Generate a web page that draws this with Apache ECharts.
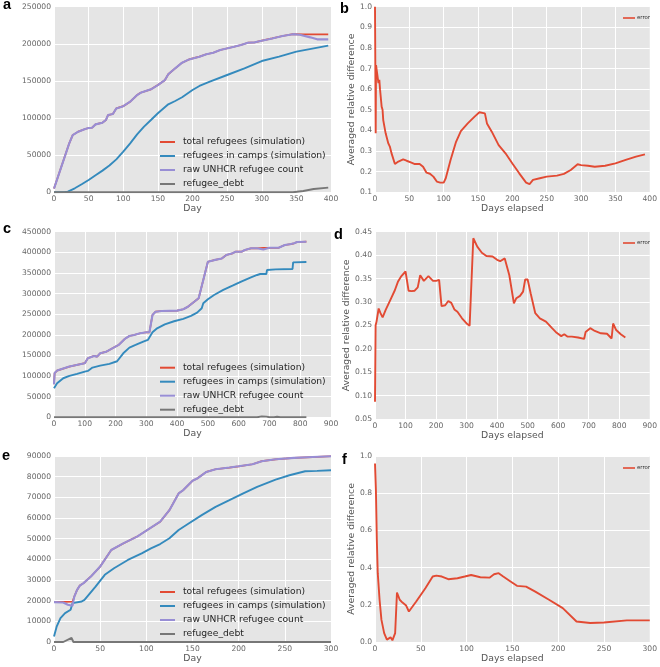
<!DOCTYPE html>
<html>
<head>
<meta charset="utf-8">
<script src="https://cdn.jsdelivr.net/npm/echarts@6/dist/echarts.min.js"></script>
<style>
html,body{margin:0;padding:0;background:#fff;}
#chart{width:660px;height:667px;}
</style>
</head>
<body>
<div id="chart"></div>
<script>
// ---------- DATA ----------
const seriesNames = ['total refugees (simulation)', 'refugees in camps (simulation)', 'raw UNHCR refugee count', 'refugee_debt'];
const errorName = 'error';
const panelLetters = ['a', 'b', 'c', 'd', 'e', 'f'];

// Panel a
const aTotalSim = [[0,5000],[22,66000],[27,77000],[35,81700],[45,85300],[50,86600],[55,87000],[60,91500],[70,93800],[75,97400],[78,104000],[85,105500],[90,113000],[100,116000],[110,122000],[120,131000],[125,134000],[140,138700],[150,144500],[160,151000],[165,159000],[175,167000],[185,174600],[195,179000],[210,182700],[220,186000],[230,188000],[240,191700],[260,196000],[270,198400],[280,201500],[290,202000],[300,204200],[315,207300],[330,210500],[345,213000],[360,212800],[396,212800]];
const aCamps = [[0,0],[15,300],[20,900],[30,5400],[40,10800],[50,16600],[60,23000],[70,29200],[80,36000],[90,44400],[100,54800],[110,66000],[120,78000],[130,88400],[140,97400],[150,106400],[160,114500],[165,118500],[175,123000],[185,128000],[200,137800],[210,143200],[225,149000],[250,158000],[275,167000],[300,176800],[325,182700],[350,189400],[375,193900],[396,197500]];
const aRawUNHCR = [[0,5000],[22,66000],[27,77000],[35,81700],[45,85300],[50,86600],[55,87000],[60,91500],[70,93800],[75,97400],[78,104000],[85,105500],[90,113000],[100,116000],[110,122000],[120,131000],[125,134000],[140,138700],[150,144500],[160,151000],[165,159000],[175,167000],[185,174600],[195,179000],[210,182700],[220,186000],[230,188000],[240,191700],[260,196000],[270,198400],[280,201500],[290,202000],[300,204200],[315,207300],[330,210500],[345,213000],[355,212300],[370,208700],[380,206000],[396,206000]];
const aDebt = [[0,0],[345,0],[360,1800],[375,4500],[396,6300]];

// Panel b
const bError = [[0,1.0],[1,0.386],[1.5,0.717],[3.4,0.717],[5,0.63],[6.3,0.645],[7.3,0.60],[9.7,0.515],[11,0.50],[12,0.45],[13.6,0.458],[15.5,0.386],[19.4,0.337],[21.8,0.32],[24,0.29],[29,0.237],[34,0.249],[41,0.26],[46,0.253],[53,0.244],[58,0.237],[65,0.237],[70,0.224],[75,0.195],[80,0.190],[85,0.176],[90,0.152],[95,0.147],[100,0.147],[103,0.168],[110,0.257],[118,0.345],[125,0.397],[135,0.434],[145,0.467],[152,0.488],[160,0.483],[163,0.434],[170,0.394],[180,0.329],[190,0.289],[200,0.24],[210,0.192],[220,0.147],[225,0.14],[230,0.16],[240,0.168],[250,0.176],[265,0.181],[275,0.189],[285,0.208],[295,0.236],[300,0.232],[310,0.229],[320,0.224],[335,0.229],[350,0.24],[365,0.257],[380,0.273],[393,0.284]];

// Panel c
const cTotalSim = [[0,80000],[2,107000],[10,113000],[50,122800],[100,131000],[105,132500],[110,143000],[130,148700],[140,147000],[150,155000],[170,159000],[200,171300],[210,175300],[230,190000],[245,197000],[260,199500],[280,203600],[300,206000],[310,206000],[320,248000],[330,256000],[350,257700],[400,258500],[420,261800],[435,268000],[470,288500],[500,377000],[520,381000],[545,385000],[560,393500],[580,397500],[590,401500],[610,401500],[620,405600],[640,409700],[660,409700],[680,411000],[700,411000],[730,411000],[750,417700],[770,420000],[780,421800],[790,425000],[820,425800]];
const cCamps = [[0,70300],[10,82400],[30,94500],[50,100200],[75,105000],[100,110700],[110,112300],[125,120400],[150,125200],[180,129300],[205,135700],[210,139000],[225,155000],[245,168900],[265,175300],[290,183400],[305,187500],[320,206000],[335,215700],[360,225400],[390,232700],[420,238400],[445,245600],[465,253700],[480,264200],[485,276300],[500,286000],[520,296500],[550,308700],[580,319000],[610,329700],[640,339400],[660,345000],[670,347400],[690,347400],[692,357000],[720,358700],[775,359600],[777,375700],[820,376500]];
const cRawUNHCR = [[0,80000],[2,107000],[10,113000],[50,122800],[100,131000],[105,132500],[110,143000],[130,148700],[140,147000],[150,155000],[170,159000],[200,171300],[210,175300],[230,190000],[245,197000],[260,199500],[280,203600],[300,206000],[310,206000],[320,248000],[330,256000],[350,257700],[400,258500],[420,261800],[435,268000],[470,288500],[500,377000],[520,381000],[545,385000],[560,393500],[580,397500],[590,401500],[610,401500],[620,405600],[640,409700],[660,409700],[680,407000],[700,411000],[730,411000],[750,417700],[770,420000],[780,421800],[790,425000],[820,425800]];
const cDebt = [[0,0],[660,0],[675,2000],[690,1500],[700,0],[715,0],[725,1200],[735,0],[820,0]];

// Panel d
const dError = [[0,0.087],[2,0.25],[5,0.258],[12,0.286],[18,0.276],[25,0.267],[35,0.283],[50,0.304],[65,0.325],[75,0.343],[85,0.354],[100,0.365],[105,0.368],[110,0.324],[120,0.323],[130,0.324],[135,0.327],[140,0.331],[148,0.357],[160,0.345],[175,0.355],[190,0.345],[200,0.345],[210,0.347],[218,0.291],[230,0.293],[240,0.302],[250,0.298],[260,0.284],[270,0.279],[285,0.265],[300,0.254],[310,0.249],[322,0.436],[335,0.418],[350,0.405],[365,0.398],[385,0.397],[400,0.39],[410,0.387],[425,0.393],[430,0.393],[440,0.357],[455,0.297],[463,0.308],[475,0.313],[485,0.322],[492,0.348],[500,0.348],[510,0.318],[525,0.276],[540,0.265],[560,0.258],[580,0.244],[585,0.246],[595,0.234],[610,0.227],[620,0.231],[630,0.226],[645,0.226],[650,0.229],[665,0.224],[685,0.221],[690,0.236],[705,0.244],[720,0.238],[740,0.233],[760,0.232],[775,0.222],[780,0.254],[790,0.24],[805,0.231],[820,0.224]];

// Panel e
const eTotalSim = [[0,19300],[10,19400],[20,19500],[22,22000],[25,25200],[28,27300],[32,28500],[40,31700],[50,36500],[62,44500],[75,47700],[90,51000],[100,53900],[115,58200],[125,63800],[135,71900],[140,73500],[150,78000],[155,79100],[165,82300],[175,83600],[190,84400],[200,85000],[215,86000],[225,87500],[240,88400],[260,89100],[280,89500],[300,89900]];
const eCamps = [[0,2700],[3,7600],[7,11600],[12,14000],[18,15600],[20,18800],[21,19100],[30,19600],[33,20400],[45,26800],[55,32500],[65,35700],[80,39700],[95,42900],[105,45300],[115,47400],[125,50200],[135,54200],[145,57100],[160,61400],[175,65400],[190,68600],[205,71900],[220,75100],[240,78600],[255,80700],[272,82600],[285,82800],[300,83100]];
const eRawUNHCR = [[0,19300],[10,19100],[15,18000],[20,17500],[22,22000],[25,25200],[28,27300],[32,28500],[40,31700],[50,36500],[62,44500],[75,47700],[90,51000],[100,53900],[115,58200],[125,63800],[135,71900],[140,73500],[150,78000],[155,79100],[165,82300],[175,83600],[190,84400],[200,85000],[215,86000],[225,87500],[240,88400],[260,89100],[280,89500],[300,89900]];
const eDebt = [[0,0],[10,0],[19,2000],[21,0],[300,0]];

// Panel f
const fError = [[0,0.96],[1,0.816],[2,0.55],[3,0.37],[5,0.227],[7,0.12],[10,0.048],[13,0.0125],[15,0.0125],[17,0.025],[19,0.009],[21,0.016],[22,0.048],[24,0.266],[27,0.227],[30,0.212],[34,0.196],[37,0.164],[45,0.218],[55,0.289],[63,0.352],[67,0.357],[73,0.352],[80,0.3375],[90,0.343],[98,0.352],[105,0.36],[115,0.348],[125,0.346],[130,0.364],[135,0.37],[140,0.352],[148,0.325],[155,0.302],[165,0.298],[175,0.271],[190,0.227],[205,0.182],[220,0.11],[235,0.102],[250,0.105],[275,0.116],[300,0.116]];

// ---------- STYLE / LAYOUT ----------
const C = { red: '#E24A33', blue: '#348ABD', purple: '#988ED5', grey: '#777777' };
const FONT = 'DejaVu Sans';
const grids = [
  { left: 54,  top: 6.7, width: 277, height: 185.6 },
  { left: 375, top: 6.7, width: 277, height: 185.6 },
  { left: 54,  top: 231.7, width: 277, height: 185.5 },
  { left: 375, top: 231.7, width: 277, height: 187.3 },
  { left: 54,  top: 456, width: 277, height: 186 },
  { left: 375, top: 456, width: 277, height: 186 }
].map(g => Object.assign({ show: true, backgroundColor: '#E5E5E5', borderWidth: 0 }, g));

function xAx(i, max, interval, name) {
  return {
    type: 'value', gridIndex: i, min: 0, max: max, interval: interval,
    name: name, nameLocation: 'middle', nameGap: 11,
    nameTextStyle: { fontFamily: FONT, fontSize: 9.3, color: '#555' },
    axisLine: { show: false }, axisTick: { show: false },
    axisLabel: { fontFamily: FONT, fontSize: 7.6, color: '#666', margin: 3 },
    splitLine: { show: true, lineStyle: { color: '#ffffff', width: 1 } }
  };
}
function yAx(i, min, max, interval, fmt, name) {
  return {
    type: 'value', gridIndex: i, min: min, max: max, interval: interval,
    name: name || '', nameLocation: 'middle', nameGap: 19,
    nameTextStyle: { fontFamily: FONT, fontSize: 9.3, color: '#555' },
    axisLine: { show: false }, axisTick: { show: false },
    axisLabel: { fontFamily: FONT, fontSize: 7.6, color: '#666', margin: 3, formatter: fmt },
    splitLine: { show: true, lineStyle: { color: '#ffffff', width: 1 } }
  };
}
const intFmt = v => String(Math.round(v));
const f1 = v => v.toFixed(1);
const f2 = v => v.toFixed(2);

function line(name, data, color, idx, width) {
  return {
    type: 'line', name: name, data: data, xAxisIndex: idx, yAxisIndex: idx,
    showSymbol: false, symbol: 'none', smooth: false, animation: false,
    lineStyle: { color: color, width: width || 1.9 }, itemStyle: { color: color }
  };
}

const series = [
  line(seriesNames[0], aTotalSim, C.red, 0, 1.7),
  line(seriesNames[1], aCamps, C.blue, 0),
  line(seriesNames[2], aRawUNHCR, C.purple, 0, 2.1),
  line(seriesNames[3], aDebt, C.grey, 0),
  line(errorName, bError, C.red, 1),
  line(seriesNames[0], cTotalSim, C.red, 2, 1.7),
  line(seriesNames[1], cCamps, C.blue, 2),
  line(seriesNames[2], cRawUNHCR, C.purple, 2, 2.1),
  line(seriesNames[3], cDebt, C.grey, 2),
  line(errorName, dError, C.red, 3),
  line(seriesNames[0], eTotalSim, C.red, 4, 1.7),
  line(seriesNames[1], eCamps, C.blue, 4),
  line(seriesNames[2], eRawUNHCR, C.purple, 4, 2.1),
  line(seriesNames[3], eDebt, C.grey, 4),
  line(errorName, fError, C.red, 5)
];

function bigLegend(top) {
  return {
    data: seriesNames, orient: 'vertical', left: 155, top: top,
    icon: 'rect', itemWidth: 15, itemHeight: 2, itemGap: 0,
    selectedMode: false,
    textStyle: { fontFamily: FONT, fontSize: 9.2, color: '#262626', lineHeight: 14, padding: [0, 0, 0, 3] }
  };
}
function errLegend(top) {
  return {
    data: [errorName], orient: 'vertical', left: 618, top: top,
    icon: 'rect', itemWidth: 12, itemHeight: 1.6, itemGap: 0,
    selectedMode: false,
    textStyle: { fontFamily: FONT, fontSize: 5.4, color: '#333', lineHeight: 7, padding: [0, 0, 0, -3] }
  };
}

const letterPos = [[3, 5.5], [340, 9.5], [3, 229], [334, 235.5], [2, 456], [342, 460.5]];
const graphic = panelLetters.map((t, i) => ({
  type: 'text', left: letterPos[i][0], top: letterPos[i][1] - 8, z: 100,
  style: { text: t, font: 'bold 14.5px "Liberation Sans", Arial, sans-serif', fill: '#000' }
}));

const option = {
  animation: false,
  backgroundColor: '#ffffff',
  grid: grids,
  xAxis: [
    xAx(0, 400, 50, 'Day'),
    xAx(1, 400, 50, 'Days elapsed'),
    xAx(2, 900, 100, 'Day'),
    xAx(3, 900, 100, 'Days elapsed'),
    xAx(4, 300, 50, 'Day'),
    xAx(5, 300, 50, 'Days elapsed')
  ],
  yAxis: [
    yAx(0, 0, 250000, 50000, intFmt),
    yAx(1, 0.1, 1.0, 0.1, f1, 'Averaged relative difference'),
    yAx(2, 0, 450000, 50000, intFmt),
    yAx(3, 0.05, 0.45, 0.05, f2, 'Averaged relative difference'),
    yAx(4, 0, 90000, 10000, intFmt),
    yAx(5, 0, 1.0, 0.2, f1, 'Averaged relative difference')
  ],
  legend: [bigLegend(130), bigLegend(355.7), bigLegend(580), errLegend(9.5), errLegend(234.5), errLegend(459.5)],
  series: series,
  graphic: graphic
};

const chart = echarts.init(document.getElementById('chart'), null, { renderer: 'canvas' });
chart.setOption(option);
</script>
</body>
</html>
